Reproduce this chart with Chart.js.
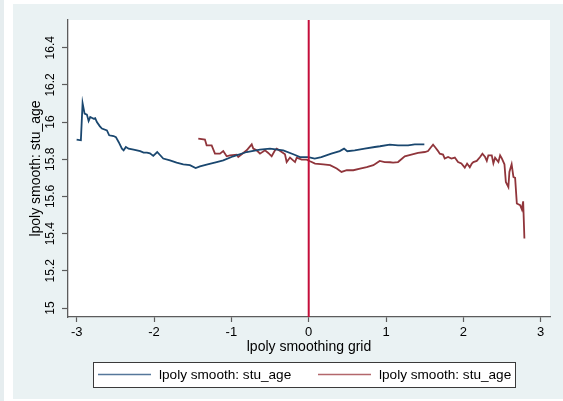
<!DOCTYPE html>
<html>
<head>
<meta charset="utf-8">
<script src="https://cdn.jsdelivr.net/npm/chart.js@4/dist/chart.umd.min.js"></script>
<style>
  html, body { margin: 0; padding: 0; background: #ffffff; }
  #wrap { position: relative; width: 563px; height: 401px; }
  canvas { display: block; }
</style>
</head>
<body>
<div id="wrap"><canvas id="c" width="563" height="401"></canvas></div>
<script>
// Series names shown in the legend
const seriesNames = ['lpoly smooth: stu_age', 'lpoly smooth: stu_age'];

// First smooth (navy): grid points and smoothed values
const gridA = [-3.001, -2.946, -2.924, -2.898, -2.868, -2.846, -2.825, -2.781, -2.761, -2.739,
  -2.700, -2.674, -2.609, -2.580, -2.523, -2.493, -2.458, -2.415, -2.393, -2.364,
  -2.329, -2.264, -2.179, -2.135, -2.092, -2.053, -2.010, -1.959, -1.881, -1.794,
  -1.708, -1.622, -1.536, -1.462, -1.406, -1.320, -1.190, -1.105, -0.975, -0.802,
  -0.630, -0.501, -0.329, -0.199, -0.113, -0.005, 0.078, 0.163, 0.292, 0.401,
  0.457, 0.499, 0.595, 0.724, 0.854, 0.922, 1.048, 1.155, 1.285, 1.371, 1.495];
const smoothA = [15.906, 15.902, 16.102, 16.045, 16.040, 16.006, 16.027, 16.018, 16.021, 16.000,
  15.977, 15.965, 15.955, 15.929, 15.925, 15.919, 15.893, 15.857, 15.848, 15.866,
  15.857, 15.852, 15.844, 15.836, 15.836, 15.832, 15.818, 15.839, 15.804, 15.794,
  15.782, 15.773, 15.768, 15.753, 15.762, 15.771, 15.785, 15.794, 15.816, 15.839,
  15.852, 15.857, 15.848, 15.827, 15.812, 15.812, 15.804, 15.812, 15.830, 15.844,
  15.857, 15.843, 15.848, 15.857, 15.866, 15.870, 15.879, 15.875, 15.875, 15.880, 15.880];

// Second smooth (maroon): grid points and smoothed values
const gridB = [-1.428, -1.342, -1.320, -1.255, -1.212, -1.147, -1.105, -1.061, -1.018, -0.931,
  -0.911, -0.846, -0.802, -0.737, -0.717, -0.673, -0.630, -0.565, -0.523, -0.479,
  -0.436, -0.414, -0.349, -0.307, -0.285, -0.242, -0.177, -0.155, -0.091, -0.026,
  0.017, 0.082, 0.189, 0.276, 0.362, 0.424, 0.492, 0.577, 0.664, 0.750,
  0.836, 0.918, 0.983, 1.052, 1.091, 1.155, 1.242, 1.327, 1.414, 1.501,
  1.543, 1.578, 1.608, 1.638, 1.673, 1.695, 1.737, 1.759, 1.802, 1.845,
  1.889, 1.931, 1.974, 2.018, 2.048, 2.083, 2.109, 2.129, 2.173, 2.216,
  2.246, 2.281, 2.303, 2.323, 2.367, 2.388, 2.410, 2.453, 2.475, 2.497,
  2.531, 2.549, 2.582, 2.595, 2.624, 2.647, 2.669, 2.691, 2.734, 2.756, 2.773, 2.789];
const smoothB = [15.911, 15.906, 15.875, 15.875, 15.830, 15.830, 15.844, 15.816, 15.821, 15.825,
  15.812, 15.834, 15.848, 15.880, 15.857, 15.848, 15.830, 15.848, 15.834, 15.816,
  15.848, 15.857, 15.839, 15.827, 15.785, 15.809, 15.785, 15.809, 15.798, 15.798,
  15.789, 15.777, 15.773, 15.768, 15.750, 15.732, 15.741, 15.741, 15.750, 15.758,
  15.768, 15.791, 15.785, 15.784, 15.782, 15.785, 15.816, 15.825, 15.834, 15.839,
  15.844, 15.863, 15.878, 15.863, 15.844, 15.830, 15.825, 15.804, 15.812, 15.804,
  15.809, 15.785, 15.777, 15.755, 15.777, 15.757, 15.777, 15.785, 15.791, 15.812,
  15.830, 15.812, 15.791, 15.821, 15.821, 15.778, 15.808, 15.785, 15.821, 15.805,
  15.773, 15.678, 15.650, 15.732, 15.773, 15.705, 15.700, 15.562, 15.553, 15.530, 15.574, 15.374];

// Axis ticks and labels
const xTicks = [-3, -2, -1, 0, 1, 2, 3];
const xTickLabels = ['-3', '-2', '-1', '0', '1', '2', '3'];
const yTicks = [15, 15.2, 15.4, 15.6, 15.8, 16, 16.2, 16.4];
const yTickLabels = ['15', '15.2', '15.4', '15.6', '15.8', '16', '16.2', '16.4'];
const xTitle = 'lpoly smoothing grid';
const yTitle = 'lpoly smooth: stu_age';

// Reference line position on the grid axis
const xRefLine = 0;

const NAVY = '#1a476f';
const MAROON = '#90353b';
const REFLINE = '#c40e3a';
const REGION = '#eaf2f3';
const AXIS = '#5c5c5c';
const FONT = '"Liberation Sans", Arial, Helvetica, sans-serif';

const zip = (xs, ys) => xs.map((x, i) => ({ x: x, y: ys[i] }));

// Page backdrop: outer region colour, white plot area
const backdrop = {
  id: 'backdrop',
  beforeDraw(chart) {
    const { ctx, chartArea: a, width, height } = chart;
    ctx.save();
    ctx.fillStyle = '#ffffff';
    ctx.fillRect(0, 0, width, height);
    ctx.fillStyle = '#e6edef';
    ctx.fillRect(0, 0, 4, height);
    ctx.fillStyle = REGION;
    ctx.fillRect(13, 4, width - 13, 395);
    ctx.fillStyle = '#ffffff';
    ctx.fillRect(a.left, a.top, a.right - a.left, a.bottom - a.top);
    ctx.restore();
  }
};

// Vertical reference line drawn over the smooths
const refLine = {
  id: 'refLine',
  afterDatasetsDraw(chart) {
    const { ctx, chartArea: a, scales } = chart;
    const px = scales.x.getPixelForValue(xRefLine);
    ctx.save();
    ctx.strokeStyle = REFLINE;
    ctx.lineWidth = 2;
    ctx.beginPath();
    ctx.moveTo(px, a.top);
    ctx.lineTo(px, a.bottom);
    ctx.stroke();
    ctx.restore();
  }
};

// Boxed legend under the axis title
const boxLegend = {
  id: 'boxLegend',
  afterDraw(chart) {
    const { ctx } = chart;
    ctx.save();
    ctx.fillStyle = '#ffffff';
    ctx.fillRect(93, 362, 423, 25);
    ctx.strokeStyle = '#3a3a3a';
    ctx.lineWidth = 1;
    ctx.strokeRect(93.5, 362.5, 422, 25);
    const items = [
      { x: 98, color: '#56779a', label: seriesNames[0] },
      { x: 318, color: '#b3676c', label: seriesNames[1] }
    ];
    ctx.font = '13.6px ' + FONT;
    ctx.textBaseline = 'middle';
    ctx.textAlign = 'left';
    items.forEach(it => {
      ctx.strokeStyle = it.color;
      ctx.lineWidth = 1.6;
      ctx.beginPath();
      ctx.moveTo(it.x, 374.5);
      ctx.lineTo(it.x + 53, 374.5);
      ctx.stroke();
      ctx.fillStyle = '#000000';
      ctx.fillText(it.label, it.x + 61, 375);
    });
    ctx.restore();
  }
};

new Chart(document.getElementById('c'), {
  type: 'scatter',
  data: {
    datasets: [
      { label: seriesNames[0], data: zip(gridA, smoothA), showLine: true, borderColor: NAVY,
        borderWidth: 1.8, pointRadius: 0, tension: 0, fill: false },
      { label: seriesNames[1], data: zip(gridB, smoothB), showLine: true, borderColor: MAROON,
        borderWidth: 1.8, pointRadius: 0, tension: 0, fill: false }
    ]
  },
  options: {
    responsive: false,
    animation: false,
    devicePixelRatio: 1,
    layout: { padding: { left: 0, right: 13, top: 20, bottom: 0 } },
    plugins: { legend: { display: false }, tooltip: { enabled: false } },
    scales: {
      x: {
        type: 'linear',
        min: -3.1125,
        max: 3.12,
        afterBuildTicks: s => { s.ticks = xTicks.map(v => ({ value: v })); },
        afterFit: s => { s.height = 84; s.paddingLeft = 0; s.paddingRight = 0; },
        ticks: {
          callback: (v, i) => xTickLabels[i],
          color: '#000000',
          font: { family: FONT, size: 13 },
          padding: 3,
          maxRotation: 0,
          minRotation: 0
        },
        grid: { display: true, drawOnChartArea: false, drawTicks: true, tickLength: 5, color: AXIS, tickWidth: 1.2 },
        border: { display: true, color: AXIS, width: 1.3 },
        title: {
          display: true,
          text: xTitle,
          color: '#000000',
          font: { family: FONT, size: 14 },
          padding: { top: 0, bottom: 45.6 }
        }
      },
      y: {
        type: 'linear',
        min: 14.9516,
        max: 16.549,
        afterBuildTicks: s => { s.ticks = yTicks.map(v => ({ value: v })); },
        afterFit: s => { s.width = 68; s.paddingTop = 0; s.paddingBottom = 0; },
        ticks: {
          callback: (v, i) => yTickLabels[i],
          color: '#000000',
          font: { family: FONT, size: 12 },
          padding: 0,
          minRotation: 90,
          maxRotation: 90,
          crossAlign: 'center'
        },
        grid: { display: true, drawOnChartArea: false, drawTicks: true, tickLength: 6, color: AXIS, tickWidth: 1.2 },
        border: { display: true, color: AXIS, width: 1.3 },
        title: {
          display: true,
          text: yTitle,
          color: '#000000',
          font: { family: FONT, size: 14 },
          padding: { top: 28, bottom: 0 }
        }
      }
    }
  },
  plugins: [backdrop, refLine, boxLegend]
});
</script>
</body>
</html>
